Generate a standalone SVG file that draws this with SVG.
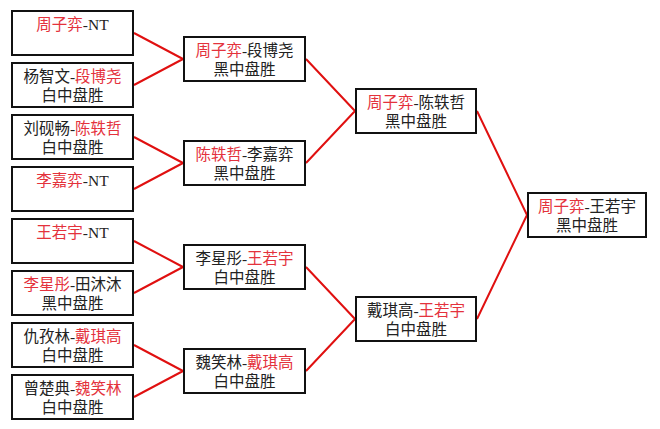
<svg xmlns="http://www.w3.org/2000/svg" width="660" height="429" viewBox="0 0 660 429">
<style>
.box{fill:#fff;stroke:#111;stroke-width:2}
text{font-family:"Liberation Serif","Noto Sans CJK SC",serif;font-size:15.5px;fill:#222;text-anchor:middle}
.r{fill:#e4323c}
.ln{stroke:#e01010;stroke-width:2;fill:none}
</style>
<rect width="660" height="429" fill="#fff"/>
<g id="connectors">
<path class="ln" d="M134,33 L183,59 M134,85 L183,59"/>
<path class="ln" d="M134,137 L183,163 M134,189 L183,163"/>
<path class="ln" d="M134,241 L183,267 M134,293 L183,267"/>
<path class="ln" d="M134,345 L183,371 M134,397 L183,371"/>
<path class="ln" d="M306,59 L355,111 M306,163 L355,111"/>
<path class="ln" d="M306,267 L355,319 M306,371 L355,319"/>
<path class="ln" d="M477,111 L527,215 M477,319 L527,215"/>
</g>
<g id="n1"><rect class="box" x="12" y="11" width="121" height="44"/><text x="72.5" y="30"><tspan class="r">周子弈</tspan>-NT</text></g>
<g id="n2"><rect class="box" x="12" y="63" width="121" height="44"/><text x="72.5" y="82">杨智文-<tspan class="r">段博尧</tspan></text><text x="72.5" y="101">白中盘胜</text></g>
<g id="n3"><rect class="box" x="12" y="115" width="121" height="44"/><text x="72.5" y="134">刘砚畅-<tspan class="r">陈轶哲</tspan></text><text x="72.5" y="153">白中盘胜</text></g>
<g id="n4"><rect class="box" x="12" y="167" width="121" height="44"/><text x="72.5" y="186"><tspan class="r">李嘉弈</tspan>-NT</text></g>
<g id="n5"><rect class="box" x="12" y="219" width="121" height="44"/><text x="72.5" y="238"><tspan class="r">王若宇</tspan>-NT</text></g>
<g id="n6"><rect class="box" x="12" y="271" width="121" height="44"/><text x="72.5" y="290"><tspan class="r">李星彤</tspan>-田沐沐</text><text x="72.5" y="309">黑中盘胜</text></g>
<g id="n7"><rect class="box" x="12" y="323" width="121" height="44"/><text x="72.5" y="342">仇孜林-<tspan class="r">戴琪高</tspan></text><text x="72.5" y="361">白中盘胜</text></g>
<g id="n8"><rect class="box" x="12" y="375" width="121" height="44"/><text x="72.5" y="394">曾楚典-<tspan class="r">魏笑林</tspan></text><text x="72.5" y="413">白中盘胜</text></g>
<g id="m1"><rect class="box" x="184" y="37" width="121" height="44"/><text x="244.5" y="56"><tspan class="r">周子弈</tspan>-段博尧</text><text x="244.5" y="75">黑中盘胜</text></g>
<g id="m2"><rect class="box" x="184" y="141" width="121" height="44"/><text x="244.5" y="160"><tspan class="r">陈轶哲</tspan>-李嘉弈</text><text x="244.5" y="179">黑中盘胜</text></g>
<g id="m3"><rect class="box" x="184" y="245" width="121" height="44"/><text x="244.5" y="264">李星彤-<tspan class="r">王若宇</tspan></text><text x="244.5" y="283">白中盘胜</text></g>
<g id="m4"><rect class="box" x="184" y="349" width="121" height="44"/><text x="244.5" y="368">魏笑林-<tspan class="r">戴琪高</tspan></text><text x="244.5" y="387">白中盘胜</text></g>
<g id="s1"><rect class="box" x="356" y="89" width="120" height="44"/><text x="416" y="108"><tspan class="r">周子弈</tspan>-陈轶哲</text><text x="416" y="127">黑中盘胜</text></g>
<g id="s2"><rect class="box" x="356" y="297" width="120" height="44"/><text x="416" y="316">戴琪高-<tspan class="r">王若宇</tspan></text><text x="416" y="335">白中盘胜</text></g>
<g id="f1"><rect class="box" x="528" y="193" width="118" height="44"/><text x="587" y="212"><tspan class="r">周子弈</tspan>-王若宇</text><text x="587" y="231">黑中盘胜</text></g>
</svg>
